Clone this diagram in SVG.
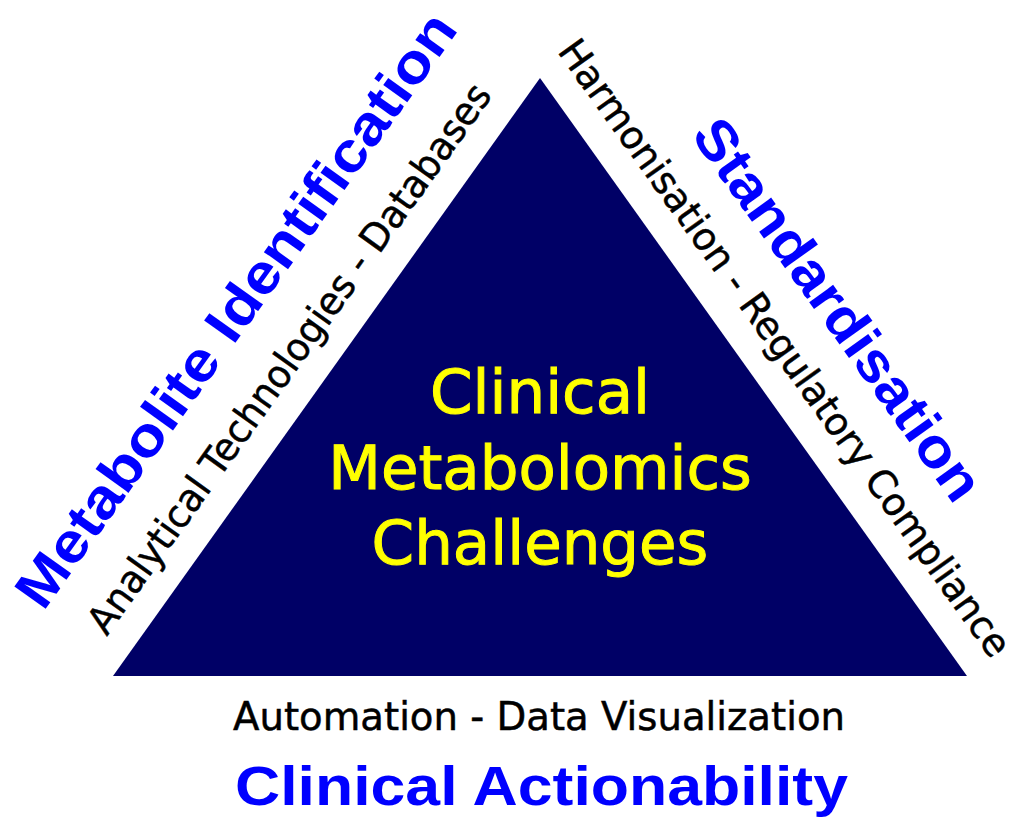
<svg xmlns="http://www.w3.org/2000/svg" width="1024" height="824" viewBox="0 0 1024 824">
  <style>
    .blk { font-family: "DejaVu Sans", Verdana, sans-serif; font-size: 38.5px; fill: #000000; stroke: #000000; stroke-width: 0.5px; }
    .blu { font-family: "Liberation Sans", Arial, sans-serif; font-weight: bold; font-size: 56px; fill: #0000ff; }
    .yel { font-family: "DejaVu Sans", Verdana, sans-serif; font-size: 61px; fill: #ffff00; stroke: #ffff00; stroke-width: 1px; }
  </style>
  <rect width="1024" height="824" fill="#ffffff"/>
  <g id="triangle">
    <polygon points="540,78 113,676 967,676" fill="#000066"/>
    <text class="yel" x="540" y="413" text-anchor="middle">Clinical</text>
    <text class="yel" x="540" y="489" text-anchor="middle">Metabolomics</text>
    <text class="yel" x="540" y="564" text-anchor="middle">Challenges</text>
  </g>
  <g id="left-side">
    <text class="blu" transform="translate(251.2,320.8) rotate(-54.48)" x="0" y="0" text-anchor="middle" textLength="716" lengthAdjust="spacingAndGlyphs">Metabolite Identification</text>
    <text class="blk" transform="translate(299.9,366.0) rotate(-54.48)" x="0" y="0" text-anchor="middle" textLength="665" lengthAdjust="spacingAndGlyphs">Analytical Technologies - Databases</text>
  </g>
  <g id="right-side">
    <text class="blu" transform="translate(822.4,320.4) rotate(54.48)" x="0" y="0" text-anchor="middle" textLength="455" lengthAdjust="spacingAndGlyphs">Standardisation</text>
    <text class="blk" transform="translate(774.0,355.6) rotate(54.48)" x="0" y="0" text-anchor="middle" textLength="748" lengthAdjust="spacingAndGlyphs">Harmonisation - Regulatory Compliance</text>
  </g>
  <g id="bottom-side">
    <text class="blk" x="539" y="730" text-anchor="middle" textLength="612" lengthAdjust="spacingAndGlyphs">Automation - Data Visualization</text>
    <text class="blu" x="541.5" y="805" text-anchor="middle" textLength="613" lengthAdjust="spacingAndGlyphs">Clinical Actionability</text>
  </g>
  <g id="connectors"></g>
</svg>
